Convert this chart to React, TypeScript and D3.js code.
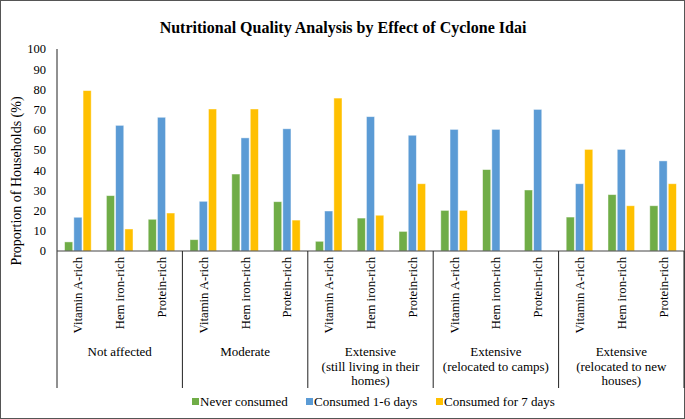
import React from "react";
import * as d3 from "d3";

const groups = [
  ["Not affected"],
  ["Moderate"],
  ["Extensive", "(still living in their", "homes)"],
  ["Extensive", "(relocated to camps)"],
  ["Extensive", "(relocated to new", "houses)"],
];
const foods = ["Vitamin A-rich", "Hem iron-rich", "Protein-rich"];
const seriesNames = ["Never consumed", "Consumed 1-6 days", "Consumed for 7 days"];
const seriesColors = ["#70AD47", "#5B9BD5", "#FFC000"];

// values per category (group x food), in order of groups then foods
const neverConsumed = [4.5, 27.4, 15.7, 5.6, 38.1, 24.4, 4.8, 16.3, 9.7, 20.1, 40.3, 30.2, 16.8, 27.9, 22.4];
const consumed16 = [16.7, 62.2, 66.2, 24.6, 56, 60.5, 19.8, 66.5, 57.3, 60.2, 60.2, 70.1, 33.3, 50.3, 44.6];
const consumed7 = [79.4, 10.9, 18.8, 70.3, 70.3, 15.3, 75.7, 17.7, 33.3, 20.1, 0, 0, 50.3, 22.4, 33.3];
const yTicks = [0, 10, 20, 30, 40, 50, 60, 70, 80, 90, 100];

const W = 685;
const H = 419;
const left = 57;
const right = 684;
const top = 49;
const bottom = 251;
const sepBottom = 388;
const FONT = "Liberation Serif, Times New Roman, serif";

export default function App() {
  const cats = d3.range(groups.length * foods.length).map(String);
  const x = d3.scaleBand<string>().domain(cats).range([left, right]).padding(0);
  const inner = d3.scaleBand<number>().domain([0, 1, 2]).range([-13.3, 13.3]).paddingInner(0.12);
  const y = d3.scaleLinear().domain([0, 100]).range([bottom, top]);
  const seriesData = [neverConsumed, consumed16, consumed7];
  const gw = (right - left) / groups.length;

  return (
    <svg
      width={W}
      height={H}
      style={{ position: "absolute", left: 0, top: 0, background: "#fff", fontFamily: FONT }}
    >
      <rect x={0.5} y={0.5} width={W - 1} height={H - 1} fill="#fff" stroke="#555" strokeWidth={1} />
      <text x={343} y={33} textAnchor="middle" fontSize={16} fontWeight="bold" fill="#000">
        Nutritional Quality Analysis by Effect of Cyclone Idai
      </text>
      {/* y title */}
      <text
        transform={`translate(21,181) rotate(-90)`}
        textAnchor="middle"
        fontSize={14}
        fill="#000"
      >
        Proportion of Households (%)
      </text>
      {/* y ticks */}
      {yTicks.map((t) => (
        <text key={t} x={46} y={y(t)} dy="0.35em" textAnchor="end" fontSize={12.5} fill="#000">
          {t}
        </text>
      ))}
      {/* bars */}
      {seriesData.map((vals, si) =>
        vals.map((v, ci) =>
          v > 0 ? (
            <rect
              key={`${si}-${ci}`}
              x={(x(String(ci)) as number) + x.bandwidth() / 2 + (inner(si) as number)}
              y={y(v)}
              width={inner.bandwidth()}
              height={y(0) - y(v)}
              fill={seriesColors[si]}
              stroke="#fff"
              strokeOpacity={0.55}
              strokeWidth={0.8}
            />
          ) : null
        )
      )}
      {/* axes */}
      <line x1={left} x2={left} y1={top} y2={sepBottom} stroke="#222" strokeWidth={1} />
      <line x1={left} x2={right} y1={bottom} y2={bottom} stroke="#444" strokeWidth={1.2} />
      {groups.map((g, gi) => (
        <line
          key={gi}
          x1={left + gw * (gi + 1)}
          x2={left + gw * (gi + 1)}
          y1={bottom}
          y2={sepBottom}
          stroke="#222"
          strokeWidth={1}
        />
      ))}
      {/* category labels */}
      {cats.map((c, ci) => {
        const cx = (x(c) as number) + x.bandwidth() / 2;
        return (
          <text
            key={c}
            transform={`translate(${cx + 4.5},257) rotate(-90)`}
            textAnchor="end"
            fontSize={12.7}
            fill="#000"
          >
            {foods[ci % foods.length]}
          </text>
        );
      })}
      {/* group labels */}
      {groups.map((g, gi) => (
        <text key={gi} x={left + gw * (gi + 0.5)} y={356} textAnchor="middle" fontSize={13} fill="#000">
          {g.map((line, li) => (
            <tspan key={li} x={left + gw * (gi + 0.5)} dy={li === 0 ? 0 : 14.5}>
              {line}
            </tspan>
          ))}
        </text>
      ))}
      {/* legend */}
      {[
        [192, 200],
        [306, 314],
        [436, 444],
      ].map(([sx, tx], i) => (
        <g key={i}>
          <rect x={sx} y={398} width={7} height={7} fill={seriesColors[i]} />
          <text x={tx} y={406} fontSize={13} fill="#000">
            {seriesNames[i]}
          </text>
        </g>
      ))}
    </svg>
  );
}
